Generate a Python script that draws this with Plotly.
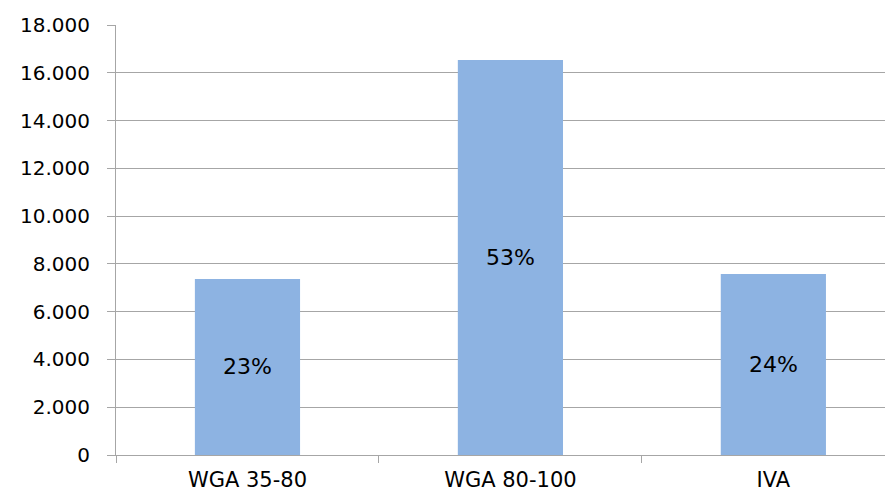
import plotly.graph_objects as go

categories = ["WGA 35-80", "WGA 80-100", "IVA"]
values = [7370, 16540, 7580]
labels = ["23%", "53%", "24%"]
y_ticks = [0, 2000, 4000, 6000, 8000, 10000, 12000, 14000, 16000, 18000]

FONT = "DejaVu Sans, Verdana, sans-serif"
GRID = "#a6a6a6"

fig = go.Figure(
    go.Bar(
        x=categories,
        y=values,
        text=labels,
        textposition="inside",
        insidetextanchor="middle",
        textfont=dict(family=FONT, size=22, color="#000000"),
        marker=dict(color="#8db3e2", line=dict(width=0)),
        width=0.4,
        hoverinfo="skip",
    )
)

# the page body adds an 8px offset, so sizes/margins are reduced accordingly
fig.update_layout(
    width=885,
    height=484,
    margin=dict(l=108, r=0, t=17, b=37),
    plot_bgcolor="white",
    paper_bgcolor="white",
    separators=",.",
    showlegend=False,
    uniformtext=dict(minsize=8, mode="show"),
)

fig.update_xaxes(
    type="category",
    range=[-0.5, 2.455],
    automargin=False,
    showgrid=False,
    showline=True,
    linecolor=GRID,
    linewidth=1,
    ticks="outside",
    tickson="boundaries",
    ticklen=7,
    tickcolor=GRID,
    ticklabelstandoff=6,
    tickfont=dict(family=FONT, size=21, color="#000000"),
    zeroline=False,
)

fig.update_yaxes(
    range=[0, 18000],
    tickvals=y_ticks,
    tickformat=",.0f",
    automargin=False,
    showgrid=True,
    gridcolor=GRID,
    gridwidth=1,
    showline=True,
    linecolor=GRID,
    linewidth=1,
    ticks="outside",
    ticklen=8,
    tickcolor=GRID,
    ticklabelstandoff=13,
    tickfont=dict(family=FONT, size=20, color="#000000"),
    zeroline=False,
)

fig.write_html("out.html")
